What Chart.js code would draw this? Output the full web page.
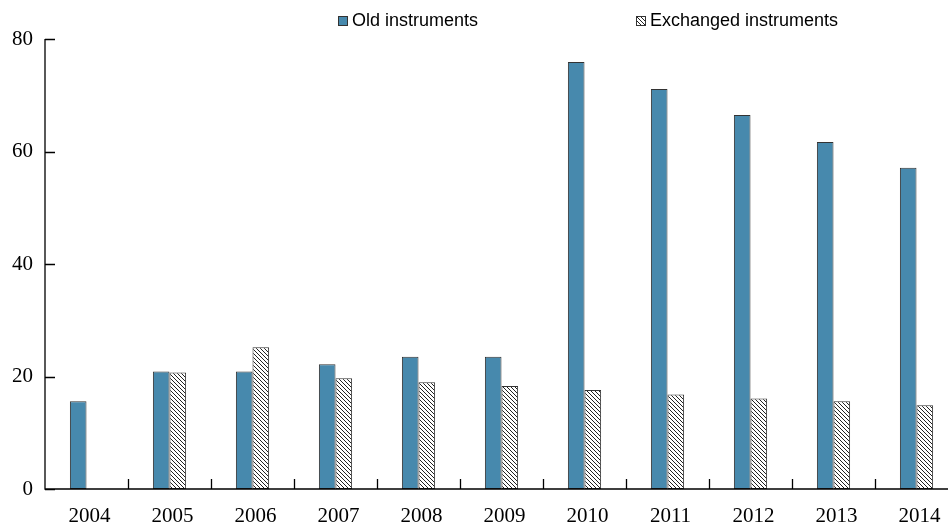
<!DOCTYPE html>
<html lang="en">
<head>
  <meta charset="UTF-8">
  <title>Old vs exchanged instruments</title>
  <script src="https://cdn.jsdelivr.net/npm/chart.js"></script>
  <style>
    html, body { margin: 0; padding: 0; overflow: hidden; background: #fff; }
    .chart-box { width: 958px; height: 523px; }
  </style>
</head>
<body>
  <div class="chart-box">
    <canvas id="grafica" width="958" height="523"></canvas>
  </div>

  <script>
    // datos
    const years = ['2004', '2005', '2006', '2007', '2008', '2009', '2010', '2011', '2012', '2013', '2014'];
    const oldInstruments = [15.6, 20.9, 20.9, 22.2, 23.5, 23.5, 75.9, 71.1, 66.5, 61.7, 57.1];
    const exchangedInstruments = [null, 20.7, 25.2, 19.7, 19.0, 18.3, 17.6, 16.8, 16.1, 15.6, 14.9];
    const yTicks = [0, 20, 40, 60, 80];
    const seriesNames = ['Old instruments', 'Exchanged instruments'];

    const BLUE = '#4789ad';
    const EDGE = '#333333';
    const SERIF = '"Liberation Serif", "Times New Roman", serif';

    // trama diagonal para la segunda serie
    function makeHatch() {
      const c = document.createElement('canvas');
      c.width = 4; c.height = 4;
      const g = c.getContext('2d');
      g.fillStyle = '#ffffff';
      g.fillRect(0, 0, 4, 4);
      g.strokeStyle = '#222222';
      g.lineWidth = 1;
      g.beginPath();
      g.moveTo(-1, -1); g.lineTo(5, 5);
      g.moveTo(-1, 3); g.lineTo(1, 5);
      g.moveTo(3, -1); g.lineTo(5, 1);
      g.stroke();
      return g.createPattern(c, 'repeat');
    }
    const hatch = makeHatch();

    // ticks hacia dentro y leyenda propia
    const axisDecor = {
      id: 'axisDecor',
      afterDraw(chart) {
        const ctx = chart.ctx;
        const a = chart.chartArea;
        const x = chart.scales.x, y = chart.scales.y;
        ctx.save();
        ctx.strokeStyle = '#000';
        ctx.lineWidth = 1.3;
        ctx.beginPath();
        ctx.moveTo(a.left, a.top); ctx.lineTo(a.left, a.bottom);
        ctx.lineTo(a.right, a.bottom);
        yTicks.forEach(v => {
          const py = Math.round(y.getPixelForValue(v)) + 0.5;
          ctx.moveTo(a.left, py); ctx.lineTo(a.left + 10, py);
        });
        for (let i = 1; i < years.length; i++) {
          const px = Math.round((x.getPixelForValue(i - 1) + x.getPixelForValue(i)) / 2) + 0.5;
          ctx.moveTo(px, a.bottom); ctx.lineTo(px, a.bottom - 10);
        }
        ctx.stroke();

        // leyenda
        ctx.font = '18px "Liberation Sans", Arial, sans-serif';
        ctx.textBaseline = 'middle';
        const items = [
          { x: 338, fill: BLUE, text: seriesNames[0] },
          { x: 636, fill: hatch, text: seriesNames[1] }
        ];
        items.forEach(it => {
          ctx.fillStyle = it.fill;
          ctx.fillRect(it.x, 16, 10, 10);
          ctx.strokeStyle = EDGE;
          ctx.lineWidth = 1;
          ctx.strokeRect(it.x + 0.5, 16.5, 9, 9);
          ctx.fillStyle = '#000';
          ctx.fillText(it.text, it.x + 14, 21);
        });
        ctx.restore();
      }
    };

    new Chart(document.getElementById('grafica'), {
      type: 'bar',
      data: {
        labels: years,
        datasets: [
          {
            label: seriesNames[0],
            data: oldInstruments,
            backgroundColor: BLUE,
            borderColor: EDGE,
            borderWidth: 1,
            borderSkipped: false,
            categoryPercentage: 0.4,
            barPercentage: 1
          },
          {
            label: seriesNames[1],
            data: exchangedInstruments,
            backgroundColor: hatch,
            borderColor: EDGE,
            borderWidth: 1,
            borderSkipped: false,
            categoryPercentage: 0.4,
            barPercentage: 1
          }
        ]
      },
      options: {
        responsive: false,
        animation: false,
        layout: { padding: { top: 39, right: 0, left: 0, bottom: 0 } },
        plugins: {
          legend: { display: false },
          tooltip: { enabled: false }
        },
        scales: {
          x: {
            grid: { display: false, drawTicks: false },
            border: { display: false },
            ticks: {
              color: '#000',
              padding: 15,
              labelOffset: 3,
              font: { family: SERIF, size: 21 }
            },
            afterFit(s) { s.height = 34; }
          },
          y: {
            min: 0,
            max: 80,
            afterBuildTicks(s) { s.ticks = yTicks.map(v => ({ value: v })); },
            grid: { display: false, drawTicks: false },
            border: { display: false },
            ticks: {
              color: '#000',
              padding: 12,
              font: { family: SERIF, size: 21 }
            },
            afterFit(s) { s.width = 45; }
          }
        }
      },
      plugins: [axisDecor]
    });
  </script>
</body>
</html>
